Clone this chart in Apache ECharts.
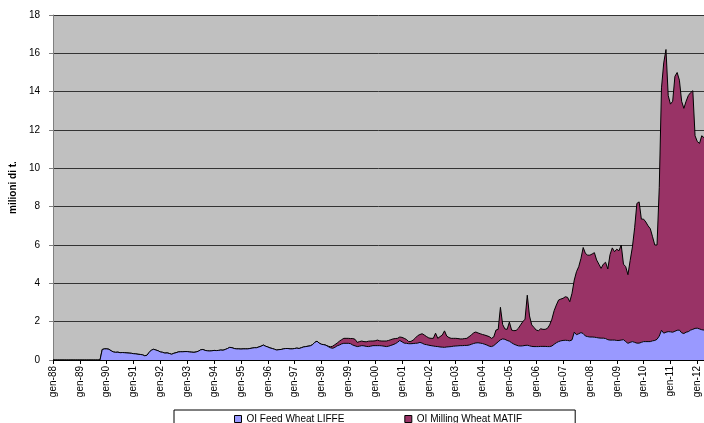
<!DOCTYPE html>
<html>
<head>
<meta charset="utf-8">
<script src="https://cdn.jsdelivr.net/npm/echarts@6/dist/echarts.min.js"></script>
<style>
  html, body { margin: 0; padding: 0; background: #ffffff; }
  #chart { width: 704px; height: 423px; }
</style>
</head>
<body>
<div id="chart"></div>
<script>
// Italian month abbreviations and the years covered (Jan 1988 .. Apr 2012)
const monthNames = ['gen', 'feb', 'mar', 'apr', 'mag', 'giu', 'lug', 'ago', 'set', 'ott', 'nov', 'dic'];
const years = ['88', '89', '90', '91', '92', '93', '94', '95', '96', '97', '98', '99',
               '00', '01', '02', '03', '04', '05', '06', '07', '08', '09', '10', '11', '12'];
const lastYearMonths = 4;

// Open interest, Feed Wheat LIFFE (millions of tonnes), one row per year
const feedWheat = [
  0, 0, 0, 0, 0, 0, 0, 0, 0, 0, 0, 0,                                   // 1988
  0, 0, 0, 0, 0, 0, 0, 0, 0, 0, 0.55, 0.58,                             // 1989
  0.58, 0.56, 0.48, 0.42, 0.40, 0.41, 0.38, 0.39, 0.38, 0.37, 0.36, 0.35, // 1990
  0.33, 0.32, 0.30, 0.29, 0.27, 0.22, 0.25, 0.40, 0.52, 0.56, 0.52, 0.48, // 1991
  0.42, 0.40, 0.36, 0.37, 0.34, 0.30, 0.35, 0.38, 0.42, 0.43, 0.43, 0.44, // 1992
  0.44, 0.42, 0.41, 0.40, 0.42, 0.46, 0.53, 0.55, 0.50, 0.48, 0.47, 0.48, // 1993
  0.50, 0.49, 0.50, 0.52, 0.51, 0.55, 0.60, 0.66, 0.64, 0.60, 0.58, 0.58, // 1994
  0.57, 0.58, 0.58, 0.58, 0.60, 0.62, 0.64, 0.64, 0.68, 0.72, 0.78, 0.72, // 1995
  0.68, 0.63, 0.60, 0.56, 0.52, 0.54, 0.55, 0.58, 0.60, 0.60, 0.58, 0.58, // 1996
  0.60, 0.62, 0.60, 0.64, 0.68, 0.70, 0.72, 0.74, 0.80, 0.92, 0.98, 0.88, // 1997
  0.82, 0.80, 0.77, 0.70, 0.64, 0.61, 0.66, 0.74, 0.78, 0.84, 0.87, 0.87, // 1998
  0.87, 0.85, 0.78, 0.74, 0.70, 0.72, 0.75, 0.74, 0.71, 0.70, 0.72, 0.75, // 1999
  0.75, 0.75, 0.75, 0.74, 0.72, 0.70, 0.72, 0.76, 0.80, 0.85, 0.92, 1.02, // 2000
  0.95, 0.88, 0.87, 0.85, 0.85, 0.86, 0.87, 0.88, 0.92, 0.88, 0.82, 0.80, // 2001
  0.77, 0.75, 0.73, 0.71, 0.70, 0.68, 0.67, 0.66, 0.68, 0.69, 0.70, 0.72, // 2002
  0.73, 0.74, 0.75, 0.75, 0.76, 0.76, 0.78, 0.82, 0.86, 0.89, 0.90, 0.88, // 2003
  0.86, 0.82, 0.78, 0.72, 0.70, 0.75, 0.85, 0.95, 1.05, 1.10, 1.08, 1.02, // 2004
  0.98, 0.90, 0.83, 0.78, 0.74, 0.73, 0.74, 0.76, 0.77, 0.74, 0.71, 0.70, // 2005
  0.70, 0.70, 0.71, 0.71, 0.71, 0.70, 0.70, 0.73, 0.82, 0.90, 0.96, 1.00, // 2006
  1.02, 1.03, 1.02, 1.00, 1.05, 1.45, 1.32, 1.37, 1.43, 1.38, 1.25, 1.22, // 2007
  1.20, 1.20, 1.19, 1.17, 1.15, 1.14, 1.14, 1.12, 1.06, 1.04, 1.04, 1.04, // 2008
  1.02, 1.02, 1.04, 1.06, 0.96, 0.87, 0.92, 0.96, 0.92, 0.88, 0.88, 0.92, // 2009
  0.96, 0.96, 0.96, 0.96, 1.00, 1.02, 1.08, 1.25, 1.55, 1.40, 1.45, 1.48, // 2010
  1.47, 1.45, 1.50, 1.55, 1.56, 1.42, 1.38, 1.45, 1.48, 1.56, 1.60, 1.65, // 2011
  1.66, 1.62, 1.58, 1.56                                                // 2012
];

// Open interest, Milling Wheat MATIF (millions of tonnes), stacked on top
const millingWheat = [
  0, 0, 0, 0, 0, 0, 0, 0, 0, 0, 0, 0,                                   // 1988
  0, 0, 0, 0, 0, 0, 0, 0, 0, 0, 0, 0,                                   // 1989
  0, 0, 0, 0, 0, 0, 0, 0, 0, 0, 0, 0,                                   // 1990
  0, 0, 0, 0, 0, 0, 0, 0, 0, 0, 0, 0,                                   // 1991
  0, 0, 0, 0, 0, 0, 0, 0, 0, 0, 0, 0,                                   // 1992
  0, 0, 0, 0, 0, 0, 0, 0, 0, 0, 0, 0,                                   // 1993
  0, 0, 0, 0, 0, 0, 0, 0, 0, 0, 0, 0,                                   // 1994
  0, 0, 0, 0, 0, 0, 0, 0, 0, 0, 0, 0,                                   // 1995
  0, 0, 0, 0, 0, 0, 0, 0, 0, 0, 0, 0,                                   // 1996
  0, 0, 0, 0, 0, 0, 0, 0, 0, 0, 0, 0,                                   // 1997
  0, 0, 0, 0.02, 0.05, 0.11, 0.14, 0.14, 0.20, 0.22, 0.26, 0.26,        // 1998
  0.26, 0.27, 0.34, 0.34, 0.22, 0.24, 0.24, 0.22, 0.24, 0.28, 0.27, 0.24, // 1999
  0.25, 0.29, 0.25, 0.25, 0.27, 0.29, 0.30, 0.30, 0.30, 0.27, 0.21, 0.18, // 2000
  0.23, 0.25, 0.20, 0.11, 0.12, 0.18, 0.28, 0.39, 0.41, 0.49, 0.48, 0.42, // 2001
  0.38, 0.38, 0.40, 0.69, 0.43, 0.54, 0.63, 0.86, 0.57, 0.48, 0.43, 0.41, // 2002
  0.40, 0.38, 0.35, 0.35, 0.36, 0.37, 0.44, 0.48, 0.56, 0.57, 0.51, 0.49, // 2003
  0.47, 0.48, 0.48, 0.50, 0.43, 0.45, 0.71, 0.65, 1.70, 0.75, 0.54, 0.58, // 2004
  1.00, 0.66, 0.70, 0.76, 0.91, 1.10, 1.26, 1.37, 2.61, 1.56, 1.12, 1.00, // 2005
  0.86, 0.83, 0.92, 0.89, 0.89, 0.95, 1.13, 1.40, 1.75, 1.97, 2.17, 2.18, // 2006
  2.20, 2.27, 2.25, 2.04, 2.43, 2.72, 3.29, 3.50, 3.87, 4.49, 4.31, 4.25, // 2007
  4.27, 4.33, 4.41, 4.05, 3.85, 3.64, 3.86, 3.98, 3.69, 4.46, 4.81, 4.61, // 2008
  4.76, 4.68, 4.96, 3.94, 3.91, 3.58, 4.28, 4.94, 5.98, 7.29, 7.37, 6.43, // 2009
  6.39, 6.24, 6.04, 5.89, 5.43, 4.98, 4.92, 7.75, 12.65, 14.10, 14.75, 12.32, // 2010
  11.88, 12.05, 13.30, 13.45, 13.04, 12.08, 11.75, 12.05, 12.32, 12.39, 12.45, 10.05, // 2011
  9.74, 9.68, 10.12, 10.04                                              // 2012
];

// Category labels "gen-88", "feb-88", ...
const categories = [];
years.forEach(function (yy, i) {
  const n = i === years.length - 1 ? lastYearMonths : 12;
  for (let m = 0; m < n; m++) categories.push(monthNames[m] + '-' + yy);
});

const FONT = 'Liberation Sans, Arial, sans-serif';
const chart = echarts.init(document.getElementById('chart'), null, { renderer: 'canvas' });

chart.setOption({
  animation: false,
  backgroundColor: '#ffffff',
  textStyle: { fontFamily: FONT, color: '#000' },
  grid: {
    left: 51, top: 15, width: 654, height: 345,
    show: true, backgroundColor: '#c0c0c0', borderWidth: 0
  },
  legend: {
    left: 174, top: 410,
    padding: [4, 53, 4, 60],
    itemGap: 60,
    icon: 'rect',
    itemWidth: 7, itemHeight: 7,
    borderColor: '#000', borderWidth: 1,
    itemStyle: { borderColor: '#000', borderWidth: 1 },
    textStyle: { fontFamily: FONT, fontSize: 10, color: '#000' },
    data: ['OI Feed Wheat LIFFE', 'OI Milling Wheat MATIF']
  },
  xAxis: {
    type: 'category',
    data: categories,
    boundaryGap: false,
    axisLine: { lineStyle: { color: '#000', width: 1 } },
    axisTick: { interval: 11, length: 4, lineStyle: { color: '#000' } },
    axisLabel: {
      interval: 11, rotate: 90, margin: 6,
      fontFamily: FONT, fontSize: 10, color: '#000'
    },
    splitLine: { show: false }
  },
  yAxis: {
    type: 'value',
    min: 0, max: 18, interval: 2,
    name: 'milioni di t.',
    nameLocation: 'middle',
    nameGap: 30,
    nameTextStyle: { fontFamily: FONT, fontSize: 10, fontWeight: 'bold', color: '#000' },
    axisLine: { show: true, lineStyle: { color: '#808080', width: 1 } },
    axisTick: { show: true, length: 4, lineStyle: { color: '#808080' } },
    axisLabel: { margin: 13, fontFamily: FONT, fontSize: 10, color: '#000' },
    splitLine: { lineStyle: { color: '#333333', width: 1 } }
  },
  series: [
    {
      name: 'OI Feed Wheat LIFFE',
      type: 'line',
      stack: 'oi',
      data: feedWheat,
      symbol: 'none',
      z: 3,
      lineStyle: { color: '#000', width: 1 },
      itemStyle: { color: '#9999ff' },
      areaStyle: { color: '#9999ff', opacity: 1 }
    },
    {
      name: 'OI Milling Wheat MATIF',
      type: 'line',
      stack: 'oi',
      data: millingWheat,
      symbol: 'none',
      z: 2,
      lineStyle: { color: '#000', width: 1 },
      itemStyle: { color: '#993366' },
      areaStyle: { color: '#993366', opacity: 1 }
    }
  ]
});
</script>
</body>
</html>
